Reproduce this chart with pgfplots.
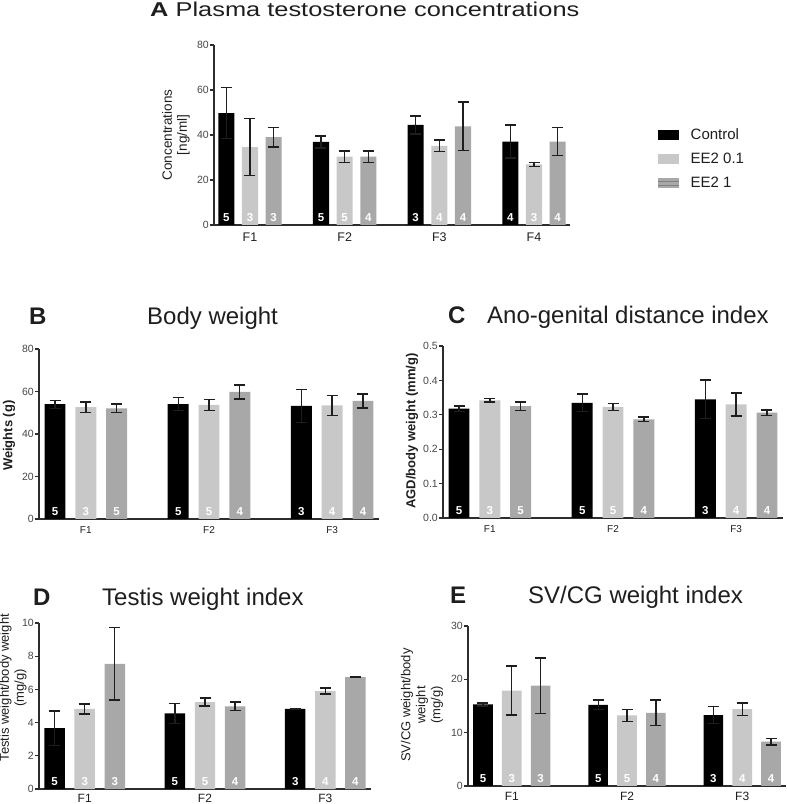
\documentclass[border=0pt]{standalone}
\usepackage{fontspec}
\setmainfont{Liberation Sans}
\newfontfamily\widefont[FakeStretch=1.27]{Liberation Sans}
\usepackage{pgfplots}
\pgfplotsset{compat=1.18}
\definecolor{ctrl}{RGB}{0,0,0}
\definecolor{lg}{RGB}{200,200,200}
\definecolor{dg}{RGB}{168,168,168}
\definecolor{axc}{RGB}{45,45,45}
\definecolor{tickc}{RGB}{70,70,70}
\definecolor{errc}{RGB}{30,30,30}
\definecolor{txt}{RGB}{30,30,30}
\pgfplotsset{
  prism/.style={
    scale only axis, ybar, bar shift=0pt, bar width=0.17,
    axis x line*=bottom, axis y line*=left,
    ymin=0, enlargelimits=false,
    xtick={1,2,3}, xticklabels={F1,F2,F3},
    xtick style={draw=none},
    tick align=outside, major tick length=4pt,
    axis line style={-, line width=1.4pt, draw=axc},
    ytick style={line width=1.2pt, draw=axc},
    /pgf/number format/assume math mode=true,
    yticklabel style={font=\fontsize{10.5}{12}\selectfont, text=tickc, inner sep=1pt},
    xticklabel style={font=\fontsize{10}{12}\selectfont, text=txt},
    ylabel style={font=\fontsize{13}{15}\selectfont, text=txt, align=center, anchor=center},
    clip=false,
  },
  eb/.style={error bars/y dir=both, error bars/y explicit,
    error bars/error bar style={line width=1.4pt, draw=errc},
    error bars/error mark options={rotate=90, line width=1.4pt, draw=errc, mark size=5.5pt}},
  nlab/.style={draw=none, fill=none, forget plot, nodes near coords,
    point meta=explicit symbolic, nodes near coords align={anchor=south},
    every node near coord/.append style={text=white, font=\bfseries\fontsize{11.5}{12}\selectfont, inner sep=0pt, yshift=3pt}},
  barimg/.style={legend image code/.code={\fill[##1] (0pt,-5pt) rectangle (21pt,5pt);}},
}
\begin{document}
\begin{tikzpicture}
\path[use as bounding box] (0pt,0pt) rectangle (787pt,804pt);

% ---------- Titles ----------
\node[anchor=base west, inner sep=0pt, text=txt] at (150pt,787pt) {\widefont\fontsize{20}{24}\selectfont\textbf{A} Plasma testosterone concentrations};
\node[anchor=base west, inner sep=0pt, text=txt] at (29pt,479pt) {\fontsize{24}{28}\selectfont\textbf{B}};
\node[anchor=base west, inner sep=0pt, text=txt] at (147pt,479pt) {\fontsize{24}{28}\selectfont Body weight};
\node[anchor=base west, inner sep=0pt, text=txt] at (448pt,480pt) {\fontsize{24}{28}\selectfont\textbf{C}};
\node[anchor=base west, inner sep=0pt, text=txt] at (487pt,480pt) {\fontsize{24}{28}\selectfont Ano-genital distance index};
\node[anchor=base west, inner sep=0pt, text=txt] at (33pt,198pt) {\fontsize{24}{28}\selectfont\textbf{D}};
\node[anchor=base west, inner sep=0pt, text=txt] at (102pt,198pt) {\fontsize{24}{28}\selectfont Testis weight index};
\node[anchor=base west, inner sep=0pt, text=txt] at (450pt,200pt) {\fontsize{24}{28}\selectfont\textbf{E}};
\node[anchor=base west, inner sep=0pt, text=txt] at (528pt,200pt) {\fontsize{24}{28}\selectfont SV/CG weight index};

% ---------- Panel A ----------
\begin{axis}[prism, at={(214pt,579pt)}, anchor=south west,
  width=356pt, height=180pt, xmin=0.62, xmax=4.38, ymax=80,
  ytick={0,20,40,60,80},
  xtick={1,2,3,4}, xticklabels={F1,F2,F3,F4},
  xticklabel style={font=\fontsize{12.5}{14}\selectfont},
  ylabel={Concentrations\\{[ng/ml]}},
  ylabel style={at={(axis description cs:-0.107,0.5)}, font=\fontsize{13.5}{15}\selectfont},
  legend style={at={(axis description cs:1.247,0.545)}, anchor=north west, draw=none, fill=none,
    inner sep=0pt, font=\fontsize{15}{17}\selectfont, text=txt, row sep=8pt,
    /tikz/every odd column/.append style={column sep=9pt}},
  legend cell align=left,
]
\addplot[fill=ctrl, draw=none, barimg, eb] coordinates {(0.75,49.7) +- (0,11.3) (1.75,36.9) +- (0,2.7) (2.75,44.5) +- (0,4.0) (3.75,37.1) +- (0,7.4)};
\addlegendentry{Control}
\addplot[fill=lg, draw=none, barimg, eb] coordinates {(1,34.6) +- (0,12.7) (2,30.4) +- (0,2.5) (3,35.2) +- (0,2.5) (4,26.9) +- (0,0.9)};
\addlegendentry{EE2 0.1}
\addplot[fill=dg, draw=none, legend image code/.code={\fill[dg] (0pt,-5pt) rectangle (21pt,5pt); \draw[gray, line width=0.6pt] (0pt,-2pt)--(21pt,-2pt) (0pt,2pt)--(21pt,2pt);}, eb] coordinates {(1.25,39.0) +- (0,4.3) (2.25,30.4) +- (0,2.5) (3.25,43.8) +- (0,10.8) (4.25,37.0) +- (0,6.2)};
\addlegendentry{EE2 1}
\addplot[nlab] coordinates {(0.75,0)[5] (1,0)[3] (1.25,0)[3] (1.75,0)[5] (2,0)[5] (2.25,0)[4] (2.75,0)[3] (3,0)[4] (3.25,0)[4] (3.75,0)[4] (4,0)[3] (4.25,0)[4]};
\end{axis}

% ---------- Panel B ----------
\begin{axis}[prism, at={(39pt,285pt)}, anchor=south west,
  width=340pt, height=170pt, xmin=0.62, xmax=3.38, ymax=80,
  ytick={0,20,40,60,80},
  ylabel={\bfseries Weights (g)},
  ylabel style={at={(axis description cs:-0.088,0.49)}},
]
\addplot[fill=ctrl, draw=none, eb] coordinates {(0.75,54.0) +- (0,1.9) (1.75,54.1) +- (0,3.0) (2.75,53.2) +- (0,7.8)};
\addplot[fill=lg, draw=none, eb] coordinates {(1,52.6) +- (0,2.5) (2,53.7) +- (0,2.5) (3,53.5) +- (0,4.7)};
\addplot[fill=dg, draw=none, eb] coordinates {(1.25,52.1) +- (0,2.0) (2.25,59.8) +- (0,3.3) (3.25,55.6) +- (0,3.3)};
\addplot[nlab] coordinates {(0.75,0)[5] (1,0)[3] (1.25,0)[5] (1.75,0)[5] (2,0)[5] (2.25,0)[4] (2.75,0)[3] (3,0)[4] (3.25,0)[4]};
\end{axis}

% ---------- Panel C ----------
\begin{axis}[prism, at={(443pt,286pt)}, anchor=south west,
  width=340pt, height=172pt, xmin=0.62, xmax=3.38, ymax=0.5,
  ytick={0,0.1,0.2,0.3,0.4,0.5},
  yticklabel style={/pgf/number format/.cd, fixed, fixed zerofill, precision=1},
  ylabel={\bfseries AGD/body weight (mm/g)},
  ylabel style={at={(axis description cs:-0.091,0.506)}},
]
\addplot[fill=ctrl, draw=none, eb] coordinates {(0.75,0.318) +- (0,0.008) (1.75,0.335) +- (0,0.025) (2.75,0.345) +- (0,0.056)};
\addplot[fill=lg, draw=none, eb] coordinates {(1,0.342) +- (0,0.005) (2,0.323) +- (0,0.010) (3,0.330) +- (0,0.033)};
\addplot[fill=dg, draw=none, eb] coordinates {(1.25,0.325) +- (0,0.012) (2.25,0.287) +- (0,0.007) (3.25,0.306) +- (0,0.008)};
\addplot[nlab] coordinates {(0.75,0)[5] (1,0)[3] (1.25,0)[5] (1.75,0)[5] (2,0)[5] (2.25,0)[4] (2.75,0)[3] (3,0)[4] (3.25,0)[4]};
\end{axis}

% ---------- Panel D ----------
\begin{axis}[prism, at={(39pt,15pt)}, anchor=south west,
  width=332pt, height=166pt, xmin=0.62, xmax=3.38, ymax=10,
  ytick={0,2,4,6,8,10},
  xticklabel style={font=\fontsize{12}{14}\selectfont, inner sep=1pt},
  ylabel={Testis weight/body weight\\(mg/g)},
  ylabel style={at={(axis description cs:-0.078,0.61)}},
]
\addplot[fill=ctrl, draw=none, eb] coordinates {(0.75,3.66) +- (0,1.04) (1.75,4.56) +- (0,0.6) (2.75,4.82) +- (0,0.02)};
\addplot[fill=lg, draw=none, eb] coordinates {(1,4.82) +- (0,0.3) (2,5.24) +- (0,0.24) (3,5.9) +- (0,0.18)};
\addplot[fill=dg, draw=none, eb] coordinates {(1.25,7.54) +- (0,2.18) (2.25,4.98) +- (0,0.26) (3.25,6.74) +- (0,0.02)};
\addplot[nlab] coordinates {(0.75,0)[5] (1,0)[3] (1.25,0)[3] (1.75,0)[5] (2,0)[5] (2.25,0)[4] (2.75,0)[3] (3,0)[4] (3.25,0)[4]};
\end{axis}

% ---------- Panel E ----------
\begin{axis}[prism, at={(468pt,18pt)}, anchor=south west,
  width=318pt, height=160pt, xmin=0.62, xmax=3.38, ymax=30,
  ytick={0,10,20,30},
  xticklabel style={font=\fontsize{12}{14}\selectfont, inner sep=2pt},
  ylabel={SV/CG weight/body\\weight\\(mg/g)},
  ylabel style={at={(axis description cs:-0.145,0.506)}},
]
\addplot[fill=ctrl, draw=none, eb] coordinates {(0.75,15.3) +- (0,0.3) (1.75,15.2) +- (0,0.9) (2.75,13.3) +- (0,1.6)};
\addplot[fill=lg, draw=none, eb] coordinates {(1,17.9) +- (0,4.6) (2,13.25) +- (0,1.1) (3,14.4) +- (0,1.2)};
\addplot[fill=dg, draw=none, eb] coordinates {(1.25,18.8) +- (0,5.2) (2.25,13.7) +- (0,2.4) (3.25,8.3) +- (0,0.6)};
\addplot[nlab] coordinates {(0.75,0)[5] (1,0)[3] (1.25,0)[3] (1.75,0)[5] (2,0)[5] (2.25,0)[4] (2.75,0)[3] (3,0)[4] (3.25,0)[4]};
\end{axis}
\end{tikzpicture}
\end{document}
